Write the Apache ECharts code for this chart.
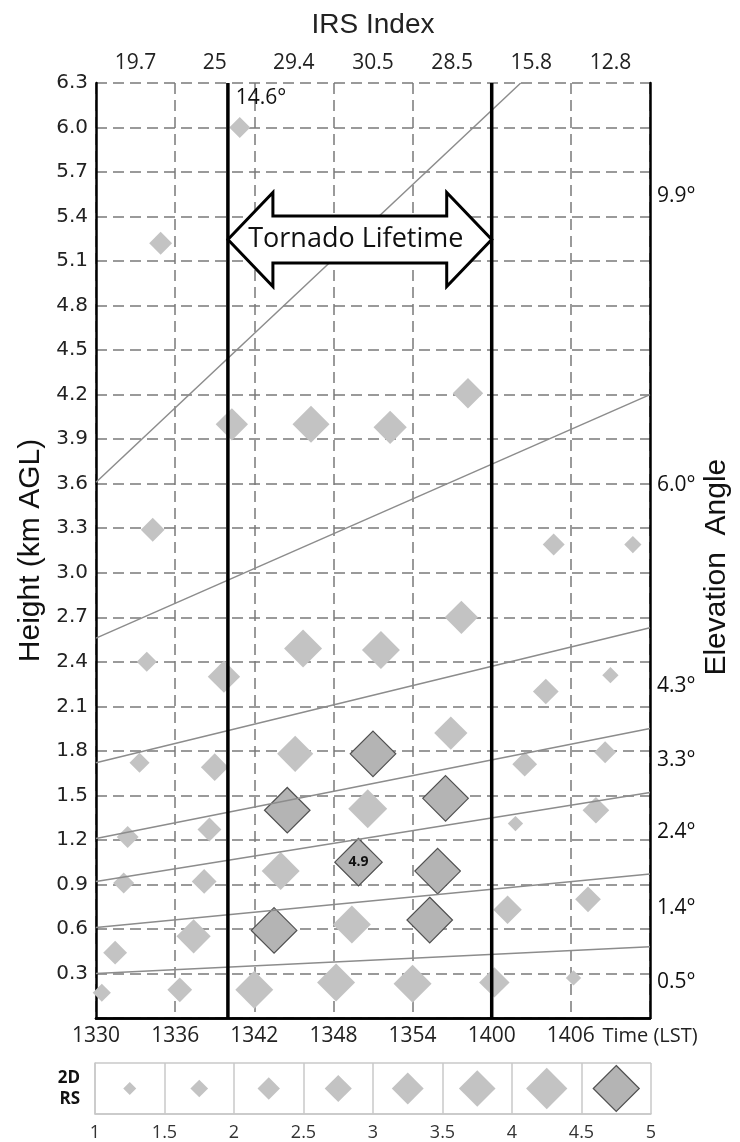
<!DOCTYPE html>
<html>
<head>
<meta charset="utf-8">
<script src="https://cdn.jsdelivr.net/npm/echarts@6.0.0/dist/echarts.min.js"></script>
<style>
html, body { margin: 0; padding: 0; background: #fff; }
#chart { width: 740px; height: 1142px; }
</style>
</head>
<body>
<div id="chart"></div>
<script>
// tick labels
var timeLabels = ['1330', '1336', '1342', '1348', '1354', '1400', '1406'];
var irsIndex = ['19.7', '25', '29.4', '30.5', '28.5', '15.8', '12.8'];

// retrievals: minutes after 1330, height (km AGL), 2D RS value
var ptMinute = [10.9, 4.9, 10.3, 16.3, 22.3, 28.2, 4.3, 34.7, 40.7, 27.7,
    3.85, 15.7, 21.6, 9.7, 39.0, 34.1, 3.3, 9.0, 15.1, 21.0,
    26.9, 32.5, 38.6, 14.5, 20.6, 26.5, 2.4, 8.6, 31.8, 37.9,
    14.0, 19.9, 25.9, 2.1, 8.2, 13.5, 19.4, 25.3, 7.4, 1.45,
    31.2, 37.3, 0.44, 6.35, 12.0, 18.2, 24.0, 30.2, 36.2];
var ptHeight = [6.00, 5.22, 4.00, 4.00, 3.98, 4.21, 3.29, 3.19, 3.19, 2.70,
    2.40, 2.49, 2.48, 2.30, 2.31, 2.20, 1.72, 1.69, 1.78, 1.78,
    1.92, 1.71, 1.79, 1.40, 1.41, 1.48, 1.22, 1.27, 1.31, 1.40,
    0.99, 1.05, 0.99, 0.91, 0.92, 0.59, 0.63, 0.66, 0.55, 0.44,
    0.73, 0.80, 0.17, 0.19, 0.19, 0.24, 0.23, 0.24, 0.27];
var ptRS = [2.1, 2.3, 3.3, 3.8, 3.4, 3.1, 2.4, 2.2, 1.7, 3.4,
    2.0, 3.9, 3.9, 3.3, 1.6, 2.6, 2.0, 2.8, 3.7, 4.7,
    3.4, 2.5, 2.2, 4.7, 4.0, 4.7, 2.2, 2.4, 1.5, 2.7,
    3.9, 4.9, 4.7, 2.1, 2.5, 4.7, 3.9, 4.7, 3.5, 2.4,
    2.9, 2.6, 1.8, 2.5, 3.9, 3.9, 3.9, 3.1, 1.5];
var labelledPoint = 31;

// radar beam centre lines
var beamAngle = ['9.9°', '6.0°', '4.3°', '3.3°', '2.4°', '1.4°', '0.5°'];
var beamStartH = [3.61, 2.56, 1.72, 1.21, 0.92, 0.61, 0.30];
var beamEndMinute = [32.2, 42, 42, 42, 42, 42, 42];
var beamEndH = [6.3, 4.2, 2.63, 1.95, 1.52, 0.97, 0.48];
var angleLabelH = [5.54, 3.59, 2.24, 1.74, 1.25, 0.74, 0.24];
var topAngleLabel = '14.6°';
var topAngleAt = [10.6, 6.2];

// tornado
var tornadoMinutes = [10, 30];
var arrowHeight = 5.245;

// size key
var legendRS = [1.25, 1.75, 2.25, 2.75, 3.25, 3.75, 4.25, 4.75];

var tickFont = 'Open Sans';
var nameFont = 'Liberation Sans';
var dashGray = '#7a7a7a';

function rsSize(rs) {
    return 13 + (rs - 1.25) * 9.43;
}
function rsStyle(rs) {
    if (rs > 4.5) {
        return { color: '#b4b4b4', borderColor: '#505050', borderWidth: 1.2, opacity: 1 };
    }
    return { color: '#c3c3c3', borderWidth: 0, opacity: 1 };
}

var points = ptMinute.map(function (m, i) {
    var item = {
        value: [m, ptHeight[i], ptRS[i]],
        symbolSize: rsSize(ptRS[i]),
        itemStyle: rsStyle(ptRS[i])
    };
    if (i === labelledPoint) {
        item.label = {
            show: true, position: 'inside', formatter: String(ptRS[i]),
            fontFamily: tickFont, fontWeight: 'bold', fontSize: 14, color: '#111'
        };
    }
    return item;
});

var series = [{
    type: 'scatter',
    xAxisIndex: 0, yAxisIndex: 0,
    symbol: 'diamond',
    clip: false,
    silent: true,
    z: 2,
    data: points
}];

beamStartH.forEach(function (h, i) {
    series.push({
        type: 'line',
        xAxisIndex: 0, yAxisIndex: 0,
        symbol: 'none',
        silent: true,
        z: 3,
        lineStyle: { color: '#8c8c8c', width: 1.5 },
        data: [[0, h], [beamEndMinute[i], beamEndH[i]]]
    });
});

series.push({
    type: 'scatter',
    xAxisIndex: 0, yAxisIndex: 0,
    symbolSize: 0,
    clip: false,
    silent: true,
    z: 6,
    itemStyle: { opacity: 1 },
    label: {
        show: true, position: 'right', distance: 7, formatter: '{b}',
        fontFamily: tickFont, fontSize: 21, color: '#111',
        textBorderWidth: 0
    },
    data: beamAngle.map(function (a, i) {
        return { name: a, value: [42, angleLabelH[i]] };
    }).concat([{
        name: topAngleLabel, value: topAngleAt,
        label: { distance: 0 }
    }])
});

tornadoMinutes.forEach(function (m) {
    series.push({
        type: 'line',
        xAxisIndex: 0, yAxisIndex: 0,
        symbol: 'none',
        silent: true,
        z: 4,
        lineStyle: { color: '#000', width: 3.5 },
        data: [[m, 0], [m, 6.3]]
    });
});

series.push({
    type: 'custom',
    xAxisIndex: 0, yAxisIndex: 0,
    silent: true,
    z: 5,
    data: [[tornadoMinutes[0], arrowHeight, tornadoMinutes[1]]],
    renderItem: function (params, api) {
        var a = api.coord([api.value(0), api.value(1)]);
        var b = api.coord([api.value(2), api.value(1)]);
        var x1 = a[0], x2 = b[0], yc = a[1];
        var hl = 45, hh = 47, sh = 23.5;
        return {
            type: 'group',
            children: [{
                type: 'polygon',
                shape: {
                    points: [
                        [x1, yc], [x1 + hl, yc - hh], [x1 + hl, yc - sh],
                        [x2 - hl, yc - sh], [x2 - hl, yc - hh], [x2, yc],
                        [x2 - hl, yc + hh], [x2 - hl, yc + sh],
                        [x1 + hl, yc + sh], [x1 + hl, yc + hh]
                    ]
                },
                style: { fill: '#fff', stroke: '#000', lineWidth: 3 }
            }, {
                type: 'text',
                style: {
                    text: 'Tornado Lifetime',
                    x: (x1 + x2) / 2 - 4, y: yc,
                    align: 'center', verticalAlign: 'middle',
                    fontFamily: tickFont, fontSize: 27, fill: '#111'
                }
            }]
        };
    }
});

series.push({
    type: 'scatter',
    xAxisIndex: 2, yAxisIndex: 2,
    symbol: 'diamond',
    silent: true,
    data: legendRS.map(function (rs) {
        return { value: [rs, 0.5], symbolSize: rsSize(rs), itemStyle: rsStyle(rs) };
    })
});

var myChart = echarts.init(document.getElementById('chart'));
var option = {
    backgroundColor: '#fff',
    animation: false,
    grid: [
        { left: 96, top: 83, width: 555, height: 935 },
        { left: 95, top: 1063, width: 556, height: 51 }
    ],
    xAxis: [{
        type: 'value',
        gridIndex: 0,
        min: 0, max: 42, interval: 6,
        position: 'bottom',
        axisLine: { show: true, lineStyle: { color: '#000', width: 2.5 } },
        axisTick: { show: false },
        axisLabel: {
            margin: 8,
            fontFamily: tickFont, fontSize: 21, color: '#222',
            formatter: function (v) {
                var i = Math.round(v / 6);
                if (i < timeLabels.length) {
                    return timeLabels[i];
                }
                return '{n|Time (LST)}';
            },
            rich: { n: { fontFamily: tickFont, fontSize: 20, color: '#222' } }
        },
        splitLine: { show: true, lineStyle: { color: dashGray, width: 1.5, type: [11, 6] } }
    }, {
        type: 'category',
        gridIndex: 0,
        position: 'top',
        data: irsIndex,
        boundaryGap: true,
        axisLine: { show: true, lineStyle: { color: '#000', width: 2.5 } },
        axisTick: { show: false },
        axisLabel: { margin: 9, fontFamily: tickFont, fontSize: 21, color: '#222' },
        splitLine: { show: false },
        name: 'IRS Index',
        nameLocation: 'middle',
        nameGap: 44,
        nameTextStyle: { fontFamily: nameFont, fontSize: 28, color: '#222' }
    }, {
        type: 'value',
        gridIndex: 1,
        min: 1, max: 5, interval: 0.5,
        axisLine: { show: true, lineStyle: { color: '#c8c8c8', width: 1.5 } },
        axisTick: { show: false },
        axisLabel: { margin: 10, fontFamily: tickFont, fontSize: 18, color: '#333' },
        splitLine: { show: true, lineStyle: { color: '#c8c8c8', width: 1.5 } }
    }],
    yAxis: [{
        type: 'value',
        gridIndex: 0,
        min: 0, max: 6.3, interval: 0.3,
        position: 'left',
        axisLine: { show: true, lineStyle: { color: '#000', width: 2.5 } },
        axisTick: { show: false },
        axisLabel: {
            margin: 8,
            fontFamily: 'DejaVu Sans', fontSize: 20, color: '#222',
            formatter: function (v) {
                return v === 0 ? '' : v.toFixed(1);
            }
        },
        splitLine: { show: true, lineStyle: { color: dashGray, width: 1.5, type: [11, 6] } },
        name: 'Height (km AGL)',
        nameLocation: 'middle',
        nameGap: 50,
        nameTextStyle: { fontFamily: nameFont, fontSize: 30, color: '#111' }
    }, {
        type: 'value',
        gridIndex: 0,
        min: 0, max: 6.3, interval: 0.3,
        position: 'right',
        axisLine: { show: true, lineStyle: { color: '#000', width: 2.5 } },
        axisTick: { show: false },
        axisLabel: { show: false },
        splitLine: { show: false },
        name: 'Elevation  Angle    ',
        nameLocation: 'middle',
        nameGap: 52,
        nameTextStyle: { fontFamily: nameFont, fontSize: 30, color: '#111' }
    }, {
        type: 'value',
        gridIndex: 1,
        min: 0, max: 1, interval: 1,
        axisLine: { show: true, lineStyle: { color: '#c8c8c8', width: 1.5 } },
        axisTick: { show: false },
        axisLabel: { show: false },
        splitLine: { show: true, lineStyle: { color: '#c8c8c8', width: 1.5 } },
        name: '2D\nRS',
        nameLocation: 'middle',
        nameRotate: 0,
        nameGap: 15,
        nameTextStyle: {
            fontFamily: tickFont, fontWeight: 'bold', fontSize: 17,
            color: '#111', lineHeight: 21, align: 'right'
        }
    }],
    series: series
};
myChart.setOption(option);
</script>
</body>
</html>
